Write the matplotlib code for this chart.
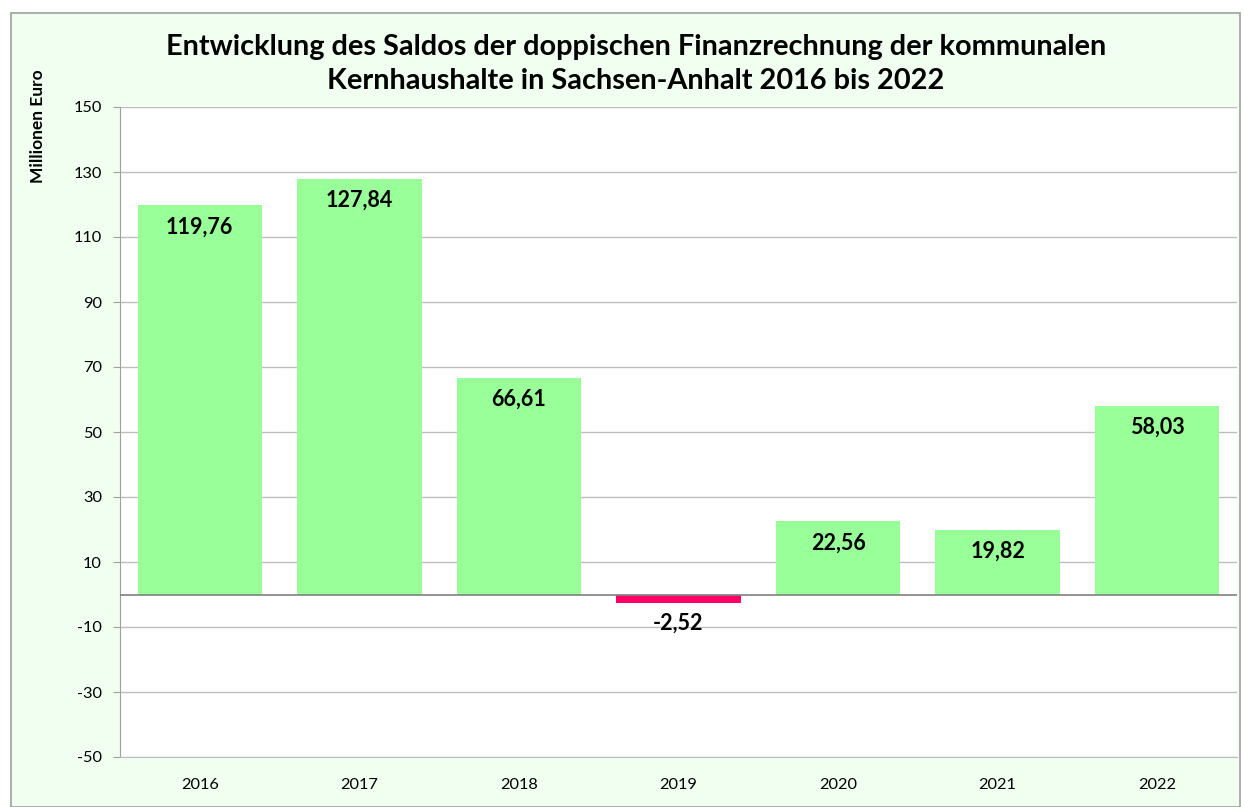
import matplotlib

matplotlib.use("Agg")
import matplotlib.pyplot as plt
from matplotlib.patches import Rectangle

plt.rcParams["font.family"] = ["Lato", "DejaVu Sans"]

years = ["2016", "2017", "2018", "2019", "2020", "2021", "2022"]
saldo = [119.76, 127.84, 66.61, -2.52, 22.56, 19.82, 58.03]
yticks = [-50, -30, -10, 10, 30, 50, 70, 90, 110, 130, 150]

POS_COLOR = "#99FF99"
NEG_COLOR = "#FF0066"
BG = "#F0FFF0"

fig = plt.figure(figsize=(12.44, 8.07), dpi=100, facecolor="white")
# light green chart area with grey frame, kept behind the axes
fig.patches.append(Rectangle((11 / 1244, 0), 1229 / 1244, 1 - 13 / 807,
                             transform=fig.transFigure, facecolor=BG,
                             edgecolor="#A0A0A0", linewidth=1.2, zorder=-5))

ax = fig.add_axes([120 / 1244, 50 / 807, 1117 / 1244, 650 / 807])
ax.set_facecolor("white")

x = range(len(years))
colors = [POS_COLOR if v >= 0 else NEG_COLOR for v in saldo]
ax.bar(x, saldo, width=0.78, color=colors, zorder=2)

ax.set_xlim(-0.5, len(years) - 0.5)
ax.set_ylim(-50, 150)
ax.set_yticks(yticks)
ax.set_yticklabels([str(t) for t in yticks], fontsize=11.8)
ax.set_xticks(list(x))
ax.set_xticklabels(years, fontsize=11.8)
ax.tick_params(axis="x", length=0, pad=15)
ax.tick_params(axis="y", length=5, color="#A0A0A0", pad=8)

ax.grid(axis="y", color="#BDBDBD", linewidth=1, zorder=0)
ax.axhline(0, color="#808080", linewidth=1.2, zorder=3)
for side in ("top", "right"):
    ax.spines[side].set_visible(False)
ax.spines["left"].set_color("#A0A0A0")
ax.spines["bottom"].set_color("#BDBDBD")

for xi, v in zip(x, saldo):
    label = f"{v:.2f}".replace(".", ",")
    ax.annotate(label, (xi, v), xytext=(0, -15.5 if v >= 0 else -14.5),
                textcoords="offset points", ha="center", va="center",
                fontsize=15.5, fontweight="bold")

ax.set_ylabel("Millionen Euro", fontsize=12.5, fontweight="bold")
ax.yaxis.set_label_coords(-0.066, 0.97)

fig.text(0.511, 1 - 64 / 807,
         "Entwicklung des Saldos der doppischen Finanzrechnung der kommunalen\n"
         "Kernhaushalte in Sachsen-Anhalt 2016 bis 2022",
         ha="center", va="center", fontsize=20.8, fontweight="bold", linespacing=1.4)

fig.savefig("out.png", dpi=100, facecolor="white")
